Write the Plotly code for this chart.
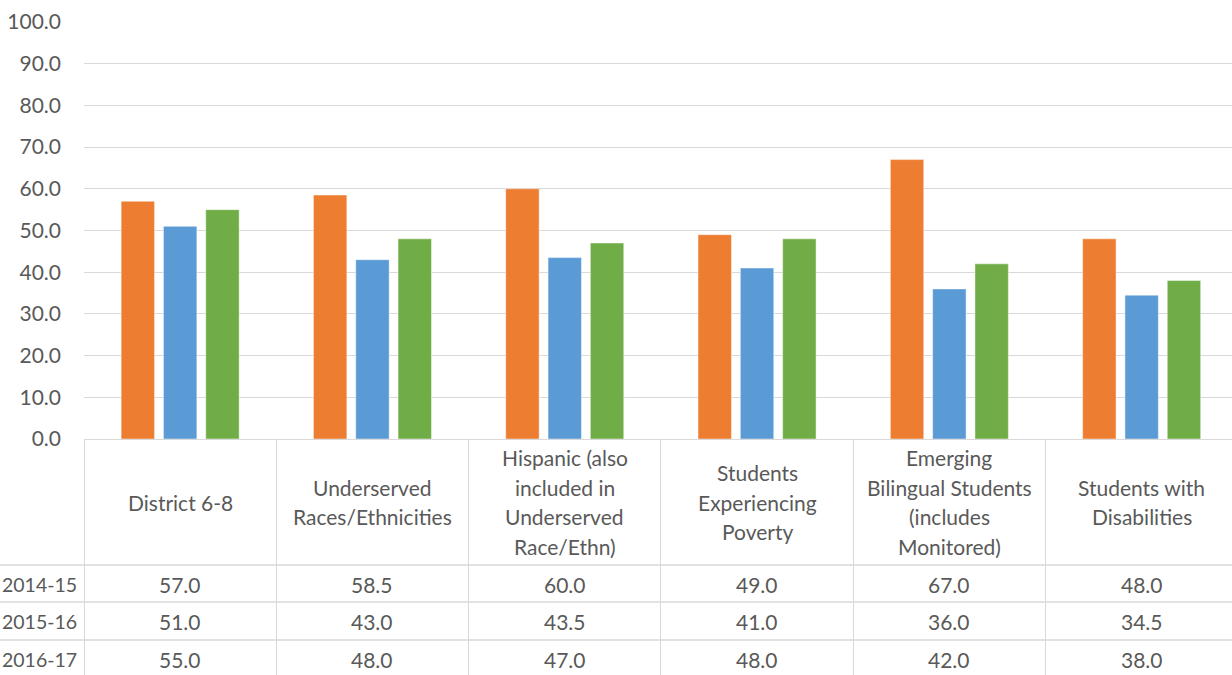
import plotly.graph_objects as go

categories = ["District 6-8", "Underserved Races/Ethnicities", "Hispanic (also included in Underserved Race/Ethn)",
              "Students Experiencing Poverty", "Emerging Bilingual Students (includes Monitored)",
              "Students with Disabilities"]
category_lines = [
    ["District 6-8"],
    ["Underserved", "Races/Ethnicities"],
    ["Hispanic (also", "included in", "Underserved", "Race/Ethn)"],
    ["Students", "Experiencing", "Poverty"],
    ["Emerging", "Bilingual Students", "(includes", "Monitored)"],
    ["Students with", "Disabilities"],
]
series_names = ["2014-15", "2015-16", "2016-17"]
values_2014 = [57.0, 58.5, 60.0, 49.0, 67.0, 48.0]
values_2015 = [51.0, 43.0, 43.5, 41.0, 36.0, 34.5]
values_2016 = [55.0, 48.0, 47.0, 48.0, 42.0, 38.0]
series_values = [values_2014, values_2015, values_2016]
colors = ["#ED7D31", "#5B9BD5", "#70AD47"]
y_ticks = [0, 10, 20, 30, 40, 50, 60, 70, 80, 90, 100]

W, H = 1232, 675
ML, MT, MB = 84, 22, 236
plot_w = W - ML
plot_h = H - MT - MB
text_color = "#595959"
grid_color = "#D9D9D9"
FONT = "Lato"
FS = 21

def py(Y):
    return (MT + plot_h - Y) / plot_h

def px(X):
    return (X - ML) / plot_w

fig = go.Figure()
for name, vals, c in zip(series_names, series_values, colors):
    fig.add_trace(go.Bar(x=categories, y=vals, name=name,
                         marker=dict(color=c, line=dict(color="rgba(255,255,255,0.45)", width=1))))

annotations = []
# header labels
header_center = 502
line_sp = 29.7
for cat, lines in zip(categories, category_lines):
    n = len(lines)
    for i, ln in enumerate(lines):
        Y = header_center + (i - (n - 1) / 2) * line_sp
        annotations.append(dict(x=cat, y=py(Y), xref="x", yref="paper", text=ln, showarrow=False,
                                xanchor="center", yanchor="middle",
                                font=dict(family=FONT, size=FS, color=text_color)))
# data rows
row_centers = [584, 621, 659]
for name, vals, Yc in zip(series_names, series_values, row_centers):
    annotations.append(dict(x=px(79), y=py(Yc), xref="paper", yref="paper", text=name, showarrow=False,
                            xanchor="right", yanchor="middle",
                            font=dict(family=FONT, size=19.5, color=text_color)))
    for cat, v in zip(categories, vals):
        annotations.append(dict(x=cat, y=py(Yc), xref="x", yref="paper", text=f"{v:.1f}", showarrow=False,
                                xanchor="center", yanchor="middle",
                                font=dict(family=FONT, size=FS, color=text_color)))

shapes = []
for Y in [565, 602, 640]:
    shapes.append(dict(type="line", xref="paper", yref="paper", x0=px(0), x1=1.01, y0=py(Y), y1=py(Y),
                       line=dict(color=grid_color, width=1.3)))

cat_px = 192.3
fig.update_layout(
    width=W, height=H,
    margin=dict(l=ML, r=0, t=MT, b=MB, pad=0),
    plot_bgcolor="white", paper_bgcolor="white",
    barmode="group", bargap=0.34, bargroupgap=0.21,
    showlegend=False,
    xaxis=dict(type="category", range=[-0.5, -0.5 + plot_w / cat_px], showticklabels=False,
               ticks="outside", tickson="boundaries", ticklen=MB, tickcolor=grid_color, tickwidth=1.3,
               showline=True, linecolor=grid_color, linewidth=1.3, showgrid=False, zeroline=False),
    yaxis=dict(range=[0, 100], tickvals=y_ticks, tickformat=".1f", showgrid=True, gridcolor=grid_color,
               gridwidth=1.3, zeroline=False, showline=False, ticks="", ticklabelstandoff=22,
               tickfont=dict(family=FONT, size=FS, color=text_color)),
    annotations=annotations, shapes=shapes,
)
fig.write_html("out.html")
